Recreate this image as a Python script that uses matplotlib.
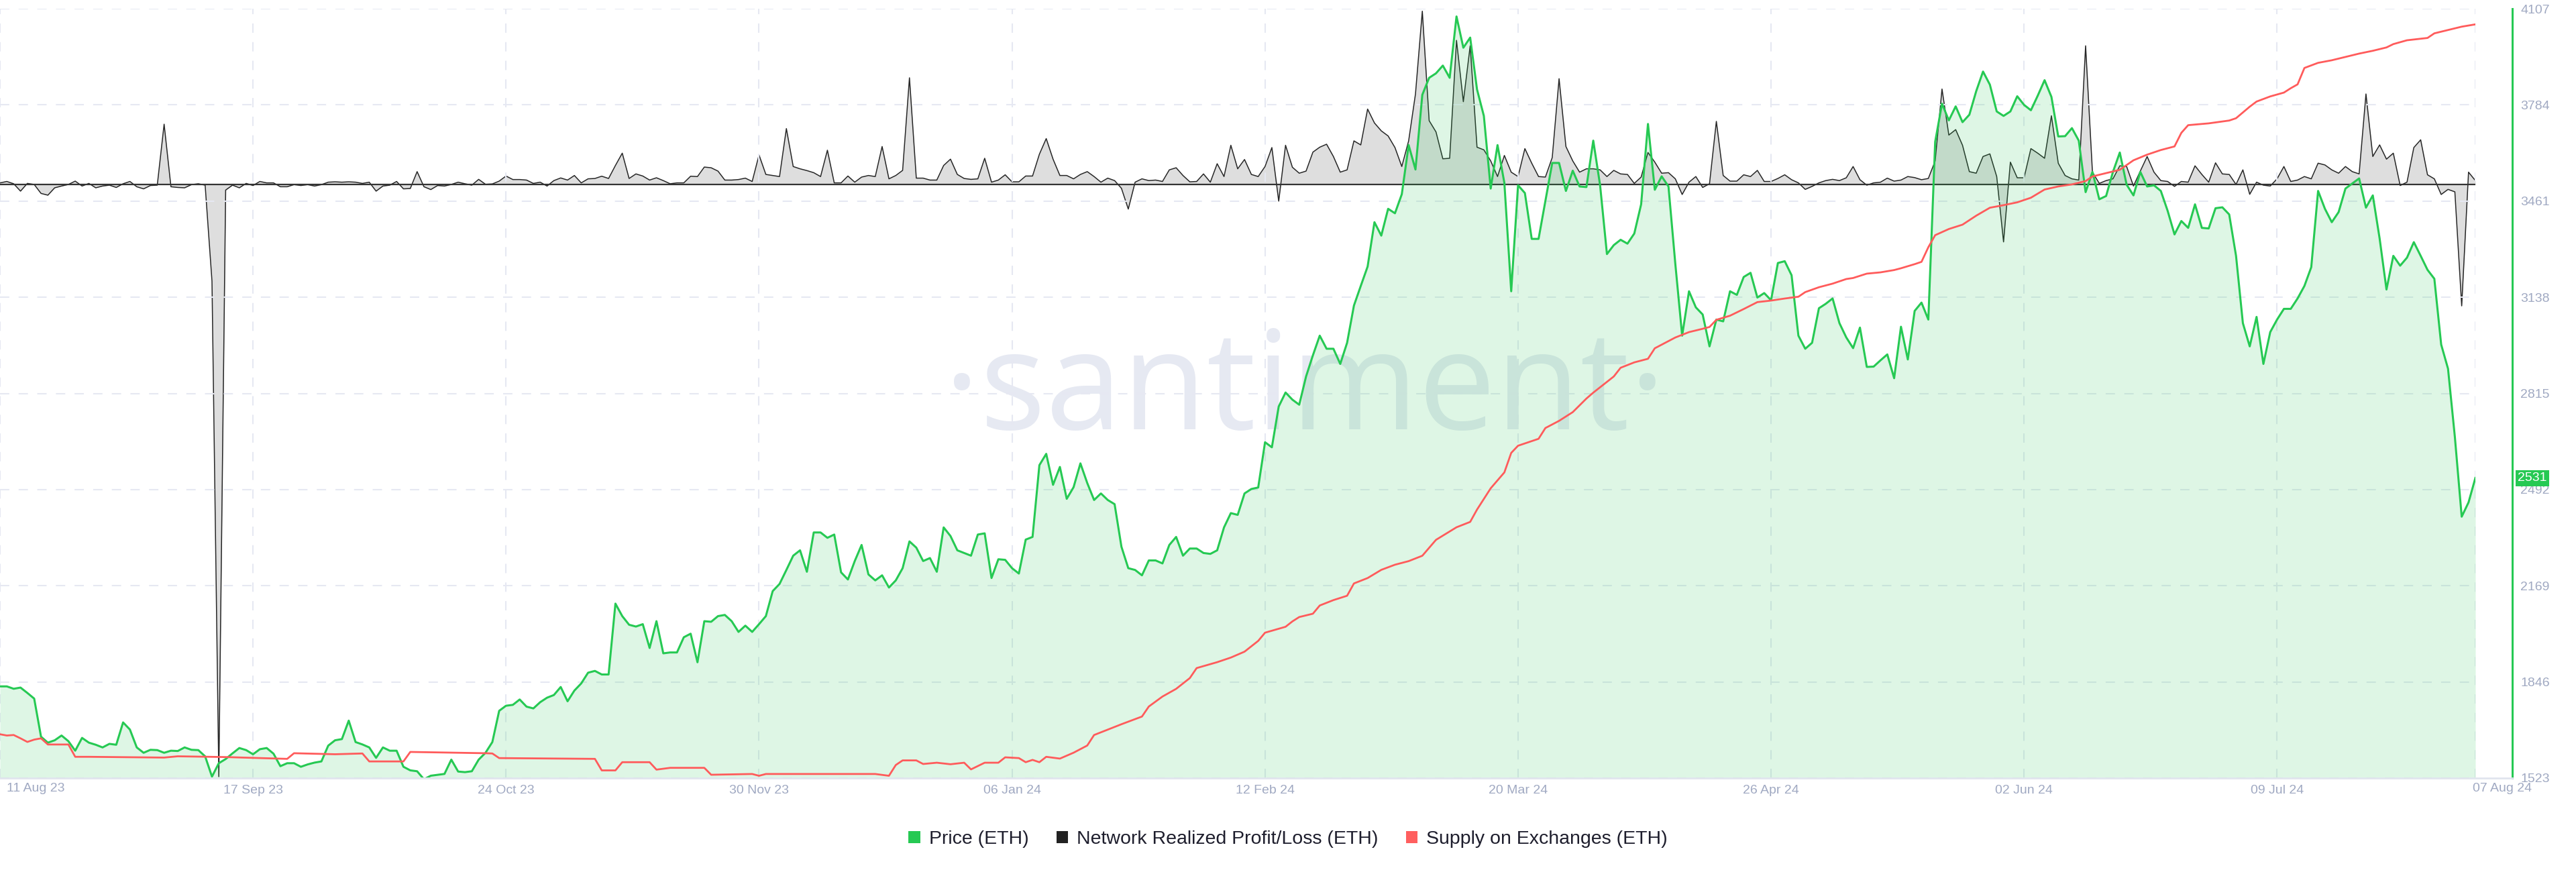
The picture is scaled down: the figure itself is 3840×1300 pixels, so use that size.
import matplotlib
matplotlib.use('Agg')
import matplotlib.pyplot as plt
from matplotlib.patches import Patch
from matplotlib.lines import Line2D
from matplotlib import transforms
import pandas as pd

# ---------------- data ----------------
start_date = '2023-08-11'

price = [
    1831, 1831, 1823, 1827, 1809, 1790, 1662, 1642, 1650, 1666,
    1647, 1615, 1658, 1642, 1635, 1626, 1638, 1635, 1710, 1686,
    1626, 1608, 1618, 1617, 1608, 1615, 1614, 1626, 1618, 1617,
    1596, 1528, 1573, 1587, 1606, 1624, 1617, 1603, 1620, 1624,
    1605, 1563, 1573, 1573, 1561, 1569, 1575, 1579, 1632, 1650,
    1654, 1716, 1644, 1636, 1626, 1591, 1626, 1615, 1615, 1561,
    1549, 1546, 1519, 1531, 1534, 1537, 1585, 1545, 1543, 1546,
    1585, 1608, 1644, 1749, 1766, 1769, 1787, 1763, 1757, 1778,
    1793, 1802, 1829, 1781, 1817, 1841, 1877, 1883, 1871, 1871,
    2109, 2067, 2038, 2032, 2040, 1960, 2050, 1942, 1945, 1945,
    1996, 2008, 1912, 2050, 2048, 2067, 2071, 2050, 2014, 2035,
    2014, 2040, 2067, 2151, 2175, 2222, 2270, 2288, 2216, 2348,
    2348, 2330, 2341, 2214, 2190, 2252, 2306, 2207,
    2187, 2204, 2163, 2187, 2228, 2318, 2297, 2252, 2262, 2216,
    2365, 2336, 2288, 2279, 2270, 2341, 2345, 2195, 2258, 2256,
    2228, 2210, 2324, 2333, 2574, 2612, 2508, 2568, 2461, 2500,
    2580, 2514, 2457, 2479, 2457, 2443, 2300, 2228, 2222, 2204,
    2254, 2254, 2244, 2306, 2333, 2270, 2294, 2294, 2279, 2276,
    2288, 2365, 2413, 2407, 2479, 2494, 2499, 2651, 2634, 2771,
    2818, 2794, 2777, 2872, 2943, 3009, 2965, 2965, 2914, 2985,
    3110, 3176, 3241,
    3390, 3345, 3435, 3420, 3484, 3649, 3567, 3818, 3875, 3890,
    3916, 3875, 4081, 3976, 4010, 3836, 3747, 3503, 3649, 3522,
    3158, 3514, 3488, 3334, 3334, 3461, 3589, 3589, 3495, 3563,
    3510, 3508, 3664, 3514, 3283, 3313, 3331, 3318, 3352, 3450,
    3720, 3499, 3544, 3510, 3250, 3009, 3158, 3104, 3080, 2973,
    3063, 3057, 3158, 3146, 3206,
    3220, 3137, 3152, 3128, 3253, 3259, 3212, 3009, 2965, 2985,
    3101, 3116, 3134, 3051, 3003, 2967, 3036, 2904, 2905, 2926,
    2946, 2866, 3039, 2929, 3092, 3120, 3063,
    3660, 3788, 3732, 3779, 3726, 3751, 3830, 3896, 3852, 3762,
    3747, 3762, 3813, 3784, 3766, 3815, 3867, 3811, 3678, 3679,
    3706, 3664, 3491, 3559, 3467, 3478, 3559, 3624, 3516, 3480,
    3559, 3510, 3514, 3495, 3428, 3349, 3394, 3371, 3450, 3371,
    3369, 3437, 3440, 3416, 3277,
    3051, 2973, 3072, 2914, 3021, 3063, 3099, 3099, 3134, 3176,
    3239, 3495, 3435, 3390, 3424, 3503, 3520, 3537, 3439, 3480,
    3335, 3164, 3277, 3244, 3271, 3323, 3277, 3230, 3200, 2979,
    2898, 2669, 2401, 2449, 2531,
]

# Network Realized Profit/Loss (thousand ETH, approximate)
npl = [
    9, 17, 4, -38, 6, 0, -51, -61, -19, -9,
    0, 19, -9, 6, -19, -9, -4, -17, 4, 17,
    -13, -25, -6, -4, 343, -13, -17, -19, -1, 4,
    -4, -550, -3370, -32, -4, -19, 6, -6, 17, 9,
    9, -13, -13, -1, -6, -1, -9, -1, 13, 15,
    13, 15, 13, 6, 13, -38, -9, -4, 17, -25,
    -23, 73, -13, -29, -6, -9, 0, 13, 4, -4,
    29, 1, 3, 19, 48, 28, 28, 25, 6, 13,
    -9, 22, 37, 25, 51, 9, 32, 34, 47, 34,
    108, 178, 34, 60, 48, 25, 38, 22, 4, 9,
    9, 47, 45, 99, 95, 76, 25, 25, 28, 36,
    17, 168, 57, 51, 45, 318, 102, 89, 79, 67,
    45, 195, 9, 9, 48, 13, 42, 51,
    45, 216, 32, 51, 80, 607, 36, 36, 25, 25,
    108, 144, 57, 34, 29, 32, 149, 13, 25, 55,
    15, 15, 48, 48, 172, 261, 144, 51, 51, 32,
    57, 73, 45, 13, 36, 22, -22, -140, 13, 32,
    22, 25, 17, 83, 95, 51, 15, 17, 60, 13,
    118, 45, 223, 89, 142, 57, 45, 102, 210, -95,
    223, 98, 64, 76, 184, 212, 229, 159, 70, 83,
    248, 225, 429, 350, 305, 276, 210, 102, 248, 515,
    986, 363, 299, 146, 149, 820, 471, 789, 212, 197,
    134, 45, 165, 70, 45, 204, 121, 45, 42, 153,
    602, 216, 134, 70, 89, 89, 83, 45, 80, 60,
    57, 6, 42, 182, 127, 64, 67, 32, -57, 13,
    45, -17, 4, 359, 51, 19, 19, 55,
    45, 80, 17, 17, 34, 55, 27, 9, -28, -11,
    9, 22, 29, 22, 38, 102, 27, -4, 9, 13,
    36, 19, 25, 45, 39, 27, 34, 134, 543, 281,
    312, 223, 73, 64, 159, 174, 45, -327, 127, 38,
    38, 204, 178, 149, 391, 121, 51, 32, 25, 789,
    70, 6, 22, 32, 106, 102, -9, 76, 159, 70,
    22, 17, -11, 17, 13, 106, 57, 13, 123, 60,
    57, 0, 83, -56, 13, -4, -9, 32, 102, 17,
    25, 45, 32, 121, 111, 83, 64, 102, 73, 60,
    515, 159, 225, 144, 178, -6, 13, 210, 254, 55,
    32, -57, -28, -42, -691, 70, 22,
]

# Supply on Exchanges (million ETH, approximate), sampled days since start
supply_day = [
    0, 1, 2, 3, 4, 5, 6, 7, 10, 11, 13, 24, 26, 33, 41, 42, 43, 49, 53, 54,
    59, 60, 71, 72, 73, 87, 88, 90, 91, 95, 96, 98, 103, 104, 110, 111, 112, 125, 128, 130,
    131, 132, 134, 135, 137, 139, 141, 142, 144, 146, 147, 149, 150, 151, 152, 153, 155, 157, 159, 160,
    162, 164, 167, 168, 170, 172, 174, 175, 178, 180, 182, 184, 185, 188, 189, 190, 192, 193, 195, 197,
    198, 200, 202, 204, 206, 208, 210, 213, 215, 216, 218, 220, 221, 222, 225, 226, 228, 230, 232, 233,
    235, 236, 237, 239, 241, 242, 244, 245, 247, 249, 250, 251, 253, 255, 257, 259, 261, 263, 264, 266,
    268, 270, 271, 273, 275, 277, 278, 280, 281, 282, 283, 285, 287, 289, 291, 293, 295, 297, 299, 301,
    303, 305, 306, 308, 310, 312, 314, 316, 318, 319, 320, 323, 326, 327, 329, 330, 332, 334, 335, 336,
    337, 339, 341, 343, 345, 347, 349, 350, 352, 355, 356, 358, 360, 362,
]
supply_val = [
    16.171, 16.166, 16.168, 16.155, 16.141, 16.150, 16.155, 16.131, 16.131, 16.083,
    16.083, 16.080, 16.085, 16.082, 16.076, 16.075, 16.097, 16.093, 16.096, 16.065,
    16.065, 16.102, 16.097, 16.096, 16.078, 16.075, 16.030, 16.030, 16.062, 16.062,
    16.033, 16.040, 16.040, 16.013, 16.016, 16.009, 16.016, 16.016, 16.016, 16.009,
    16.051, 16.069, 16.069, 16.055, 16.060, 16.054, 16.060, 16.034, 16.060, 16.060,
    16.081, 16.078, 16.062, 16.071, 16.062, 16.083, 16.076, 16.099, 16.127, 16.168,
    16.189, 16.210, 16.240, 16.279, 16.318, 16.348, 16.390, 16.429, 16.452, 16.470,
    16.493, 16.535, 16.567, 16.590, 16.611, 16.628, 16.641, 16.673, 16.694, 16.711,
    16.759, 16.780, 16.812, 16.832, 16.846, 16.867, 16.929, 16.978, 16.999, 17.047,
    17.130, 17.192, 17.268, 17.296, 17.323, 17.365, 17.393, 17.427, 17.480, 17.503,
    17.545, 17.566, 17.600, 17.621, 17.635, 17.676, 17.704, 17.718, 17.739, 17.752,
    17.759, 17.787, 17.803, 17.829, 17.856, 17.862, 17.870, 17.877, 17.895, 17.914,
    17.928, 17.946, 17.950, 17.967, 17.972, 17.981, 17.988, 18.004, 18.013, 18.070,
    18.117, 18.141, 18.158, 18.193, 18.224, 18.234, 18.245, 18.263, 18.295, 18.307,
    18.315, 18.328, 18.346, 18.359, 18.372, 18.409, 18.431, 18.449, 18.463, 18.516,
    18.546, 18.553, 18.564, 18.573, 18.618, 18.638, 18.658, 18.673, 18.690, 18.705,
    18.769, 18.789, 18.799, 18.812, 18.825, 18.836, 18.849, 18.862, 18.877, 18.886,
    18.904, 18.917, 18.930, 18.939,
]

tick_days = [0, 37, 74, 111, 148, 185, 222, 259, 296, 333, 362]
tick_labels = ['11 Aug 23', '17 Sep 23', '24 Oct 23', '30 Nov 23', '06 Jan 24',
               '12 Feb 24', '20 Mar 24', '26 Apr 24', '02 Jun 24', '09 Jul 24', '07 Aug 24']
price_ticks = [1523, 1846, 2169, 2492, 2815, 3138, 3461, 3784, 4107]
last_price_label = '2531'
legend_labels = ['Price (ETH)', 'Network Realized Profit/Loss (ETH)', 'Supply on Exchanges (ETH)']

# ---------------- styling ----------------
GREEN = '#26c953'
RED = '#ff5b5b'
BLACK = '#262626'
GRID = '#e6e8f2'
TICK = '#a0a9c2'

plt.rcParams['font.family'] = ['Liberation Sans', 'DejaVu Sans']
plt.rcParams['lines.scale_dashes'] = False

t0 = pd.Timestamp(start_date)
dates = pd.date_range(start_date, periods=len(price), freq='D')
sdates = t0 + pd.to_timedelta(supply_day, unit='D')
tdates = t0 + pd.to_timedelta(tick_days, unit='D')

W, H = 3840, 1300
fig = plt.figure(figsize=(W / 100, H / 100), dpi=100, facecolor='white')
rect = [0, 140 / H, 3690 / W, 1147 / H]

ax_npl = fig.add_axes(rect)
ax = fig.add_axes(rect, sharex=ax_npl)
ax_sup = fig.add_axes(rect, sharex=ax_npl)
for a in (ax_npl, ax, ax_sup):
    a.patch.set_visible(False)

# watermark
fig.text(1945 / W, 1 - 640 / H, '\u00b7santiment\u00b7', fontsize=148,
         family=['Open Sans', 'DejaVu Sans'], color='#e6e9f2',
         ha='center', va='baseline', zorder=-5)

# Network realized profit/loss
ax_npl.fill_between(dates, npl, 0, color='black', alpha=0.13, lw=0)
ax_npl.plot(dates, npl, color=BLACK, lw=1.1)
ax_npl.axhline(0, color='#333333', lw=1.6)
ax_npl.set_ylim(-3378, 1000)
ax_npl.axis('off')

# Price
ax.fill_between(dates, price, price_ticks[0], color=GREEN, alpha=0.15, lw=0, zorder=1)
ax.plot(dates, price, color=GREEN, lw=2.2, zorder=3)
ax.set_ylim(price_ticks[0], price_ticks[-1])
ax.set_xlim(dates[0], dates[-1])
ax.set_yticks(price_ticks)
ax.set_yticklabels([str(v) for v in price_ticks])
ax.yaxis.tick_right()
ax.set_xticks(tdates)
shown = [''] + tick_labels[1:-1] + ['']
ax.set_xticklabels(shown)
ax.grid(True, color=GRID, lw=1.5, ls=(0, (10, 10)))
ax.set_axisbelow(True)
for s in ('left', 'top', 'bottom'):
    ax.spines[s].set_visible(False)
ax.spines['right'].set_position(('outward', 39.6))
ax.spines['right'].set_color(GREEN)
ax.spines['right'].set_linewidth(2.2)
ax.tick_params(axis='y', length=0, pad=9, labelsize=14, labelcolor=TICK)
ax.tick_params(axis='x', length=0, pad=7, labelsize=14, labelcolor=TICK)

# first / last date labels (shifted like the original)
blend = transforms.blended_transform_factory(ax.transData, ax.transAxes)
off_first = transforms.ScaledTranslation(10 / 100, 0, fig.dpi_scale_trans)
off_last = transforms.ScaledTranslation(40 / 100, 0, fig.dpi_scale_trans)
ax.text(tdates[0], -7 / 1147, tick_labels[0], transform=blend + off_first,
        ha='left', va='top', fontsize=14, color=TICK)
ax.text(tdates[-1], -7 / 1147, tick_labels[-1], transform=blend + off_last,
        ha='center', va='top', fontsize=14, color=TICK)

# current price badge
badge_tr = transforms.blended_transform_factory(ax.transAxes, ax.transData)
ax.text(3753 / 3690, float(last_price_label), last_price_label, transform=badge_tr,
        ha='left', va='center', fontsize=14, color='white', zorder=10,
        bbox=dict(boxstyle='square,pad=0.18', fc=GREEN, ec='none'))

# Supply on exchanges
ax_sup.plot(sdates, supply_val, color=RED, lw=2.0)
ax_sup.set_ylim(16.0, 19.0)
ax_sup.axis('off')

# bottom axis line
fig.add_artist(Line2D([0, 3745 / W], [140 / H, 140 / H], transform=fig.transFigure,
                      color='#e1e5ee', lw=2, zorder=5))

# legend
handles = [Patch(fc=GREEN, ec='none', label=legend_labels[0]),
           Patch(fc='#222222', ec='none', label=legend_labels[1]),
           Patch(fc='#ff5f5f', ec='none', label=legend_labels[2])]
fig.legend(handles=handles, loc='center', bbox_to_anchor=(1920 / W, 1 - 1251 / H),
           ncol=3, frameon=False, fontsize=20.5, handlelength=0.62, handleheight=0.6,
           handletextpad=0.45, columnspacing=1.45, labelcolor='#1e1e2d')

fig.savefig('out.png', dpi=100, facecolor='white')
